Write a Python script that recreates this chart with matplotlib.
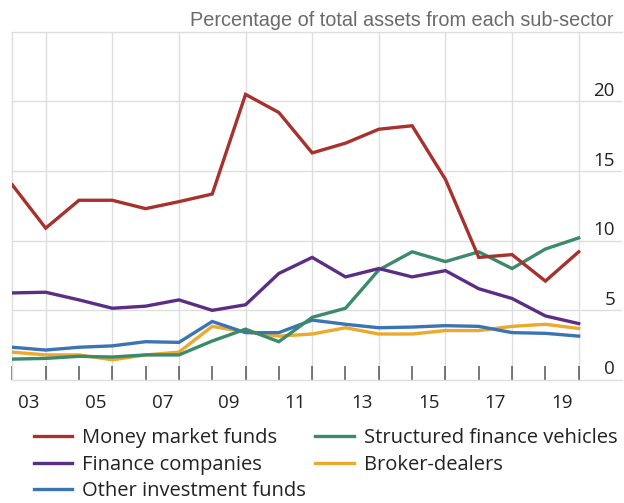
import numpy as np
import matplotlib
matplotlib.use("Agg")
import matplotlib.pyplot as plt
from matplotlib.lines import Line2D

# ---- data (year-end values, % of total assets) ----
years = np.arange(2002, 2020)  # end-of-year observations
money_market = [14.0, 10.9, 12.9, 12.9, 12.3, 12.8, 13.35, 20.5, 19.2, 16.3, 17.0, 18.0,
                18.25, 14.4, 8.8, 9.0, 7.1, 9.2]
structured = [1.5, 1.55, 1.7, 1.65, 1.8, 1.8, 2.8, 3.65, 2.75, 4.5, 5.15, 7.9,
              9.2, 8.5, 9.2, 8.0, 9.4, 10.2]
finance_cos = [6.25, 6.3, 5.75, 5.15, 5.3, 5.75, 5.0, 5.4, 7.65, 8.8, 7.4, 8.0,
               7.4, 7.85, 6.55, 5.85, 4.6, 4.05]
broker_dealers = [2.0, 1.8, 1.8, 1.45, 1.8, 2.0, 3.85, 3.45, 3.15, 3.3, 3.75, 3.3,
                  3.3, 3.55, 3.55, 3.85, 4.0, 3.7]
other_inv = [2.35, 2.15, 2.35, 2.45, 2.75, 2.7, 4.2, 3.4, 3.4, 4.3, 4.0, 3.75,
             3.8, 3.9, 3.85, 3.4, 3.35, 3.15]

series_names = ["Money market funds", "Finance companies", "Other investment funds",
                "Structured finance vehicles", "Broker-dealers"]
series_values = [money_market, finance_cos, other_inv, structured, broker_dealers]
series_colors = ["#a8312d", "#5b2d84", "#3b74b3", "#3a8a6b", "#eca92c"]

x_label_years = np.arange(2003, 2020, 2)
x_labels = [f"{y % 100:02d}" for y in x_label_years]
y_ticks = [5, 10, 15, 20]
y_labels = ["5", "10", "15", "20"]
title = "Percentage of total assets from each sub-sector"

W, H = 624, 503
fig = plt.figure(figsize=(W / 100, H / 100), dpi=100)
ax = fig.add_axes([11.7 / W, 1 - 380 / H, (622 - 11.7) / W, (380 - 31.7) / H])

xpos = years + 1.0  # end-of-year position
draw_order = [4, 2, 3, 1, 0]
for n, i in enumerate(draw_order):
    ax.plot(xpos, series_values[i], color=series_colors[i], lw=2.4,
            solid_joinstyle="miter", zorder=3 + n * 0.1)

ax.set_xlim(2002.98, 2021.3)
ax.set_ylim(0, 25)

grid_c = "#dedede"
for v in y_ticks:
    ax.axhline(v, color=grid_c, lw=1.0, zorder=1)
for xv in np.arange(2004, 2021, 2):
    ax.axvline(xv, color=grid_c, lw=1.0, zorder=1)

for s in ["top", "left", "bottom"]:
    ax.spines[s].set_color(grid_c)
    ax.spines[s].set_linewidth(1.0)
ax.spines["right"].set_visible(False)

# x ticks: marks at year boundaries, labels in between
ax.set_xticks(np.arange(2003, 2021))
ax.set_xticklabels([])
ax.tick_params(axis="x", which="major", direction="in", length=10, width=1.1,
               color="#555555")
ax.set_xticks(x_label_years + 0.5, minor=True)
ax.set_xticklabels(x_labels, minor=True)
ax.tick_params(axis="x", which="minor", length=0, pad=10, labelsize=13.5,
               labelcolor="#222222")
for t in ax.get_xticklabels(minor=True):
    t.set_fontfamily(["Open Sans", "DejaVu Sans"])

ax.set_yticks([])
for v, lab in zip([0] + y_ticks, ["0"] + y_labels):
    ax.annotate(lab, xy=(1, v), xycoords=("axes fraction", "data"),
                xytext=(-7, 5.5), textcoords="offset pixels",
                ha="right", va="baseline", fontsize=13.5, color="#222222",
                family=["Open Sans", "DejaVu Sans"])

fig.text(613 / W, 1 - 26 / H, title, ha="right", va="baseline",
         fontsize=14.3, color="#6a6a6a", family=["Liberation Sans", "DejaVu Sans"])

handles = [Line2D([0], [0], color=c, lw=2.4) for c in series_colors]
fig.legend(handles, series_names, loc="upper left",
           bbox_to_anchor=(34 / W, 1 - 428 / H), ncol=2, frameon=False,
           prop={"family": ["Open Sans", "DejaVu Sans"], "size": 14.5},
           handlelength=1.9, handletextpad=0.5, columnspacing=0.45,
           labelspacing=0.33, borderpad=0, borderaxespad=0, labelcolor="#222222")

fig.savefig("out.png", dpi=100)
